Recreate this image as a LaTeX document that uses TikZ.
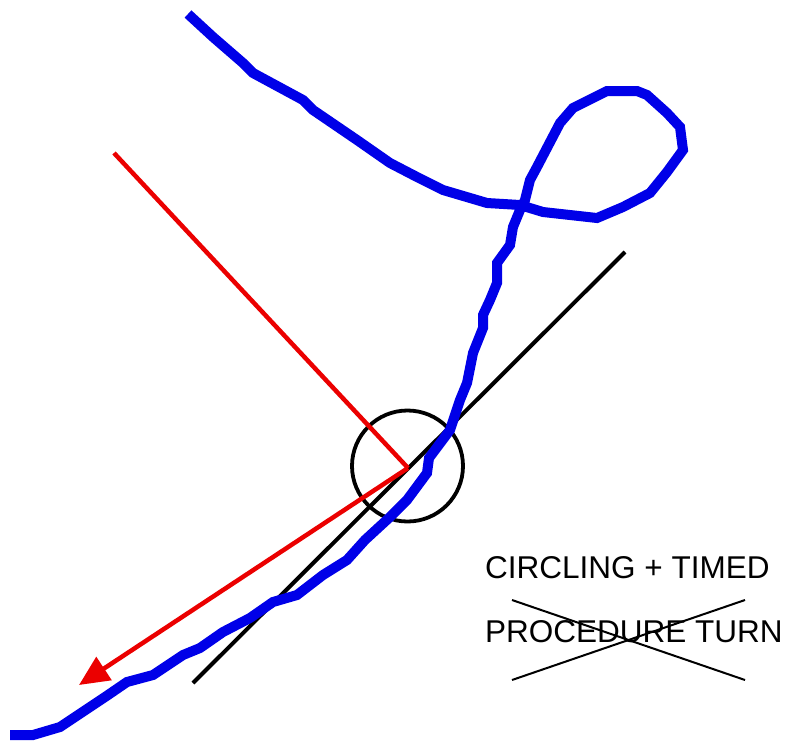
\documentclass[tikz,border=0pt]{standalone}
\usepackage{fontspec}
\setmainfont{Liberation Sans}
\usetikzlibrary{arrows.meta}
\definecolor{trackblue}{RGB}{0,0,232}
\definecolor{vecred}{RGB}{235,0,0}
\begin{document}
\begin{tikzpicture}[x=1pt,y=-1pt,
  track/.style={draw=trackblue,line width=10pt,line join=miter,miter limit=3,line cap=butt},
  vecline/.style={draw=vecred,line width=4.5pt},
  refline/.style={draw=black,line width=4pt},
  crossline/.style={draw=black,line width=2pt},
  fixcircle/.style={circle,draw=black,line width=3.8pt,minimum size=111pt,inner sep=0pt},
  label/.style={anchor=base west,inner sep=0pt,font=\fontsize{31.5}{36}\selectfont}]
\useasboundingbox (0,0) rectangle (787,753);
% reference line
\coordinate (bl1) at (193,683);
\coordinate (bl2) at (625,252);
\draw[refline] (bl1) -- (bl2);
% fix circle
\node[fixcircle] (fix) at (407.5,466) {};
% red vectors
\coordinate (rv) at (408,468);
\coordinate (rstart) at (114,153);
\coordinate (rtip) at (79,685);
\draw[vecline] (rstart) -- (rv);
\draw[vecline,-{Triangle[length=30pt,width=27pt]}] (rv) -- (rtip);
% blue track
\draw[track] (10,735) -- (33,735) -- (60,727) -- (90,707) -- (102,699) -- (108,695)
 -- (127,682) -- (153,675) -- (183,655) -- (200,648) -- (223,632) -- (250,618)
 -- (273,602) -- (297,595) -- (323,575) -- (347,560) -- (365,540) -- (390,517)
 -- (407,500) -- (427,473) -- (429,458) -- (450,430) -- (460,400) -- (467,383)
 -- (473,353) -- (483,328) -- (483,315) -- (490,300) -- (497,283) -- (497,263)
 -- (510,245) -- (513,227) -- (520,210) -- (525,200) -- (530,180) -- (537,167)
 -- (560,123) -- (573,108) -- (607,91) -- (637,91) -- (647,95) -- (667,113)
 -- (680,127) -- (683,150) -- (667,172) -- (650,193) -- (623,207) -- (597,218)
 -- (543,212) -- (520,205) -- (487,203) -- (443,190) -- (417,177) -- (390,163)
 -- (357,140) -- (313,110) -- (303,100) -- (253,73) -- (243,63) -- (213,37) -- (188,14);
% text
\node[label] (t1) at (485,578) {CIRCLING + TIMED};
\node[label] (t2) at (485,642) {PROCEDURE TURN};
% cross
\coordinate (c1) at (512,600);
\coordinate (c2) at (745,680);
\coordinate (c3) at (512,680);
\coordinate (c4) at (745,600);
\draw[crossline] (c1) -- (c2);
\draw[crossline] (c3) -- (c4);
\end{tikzpicture}
\end{document}
